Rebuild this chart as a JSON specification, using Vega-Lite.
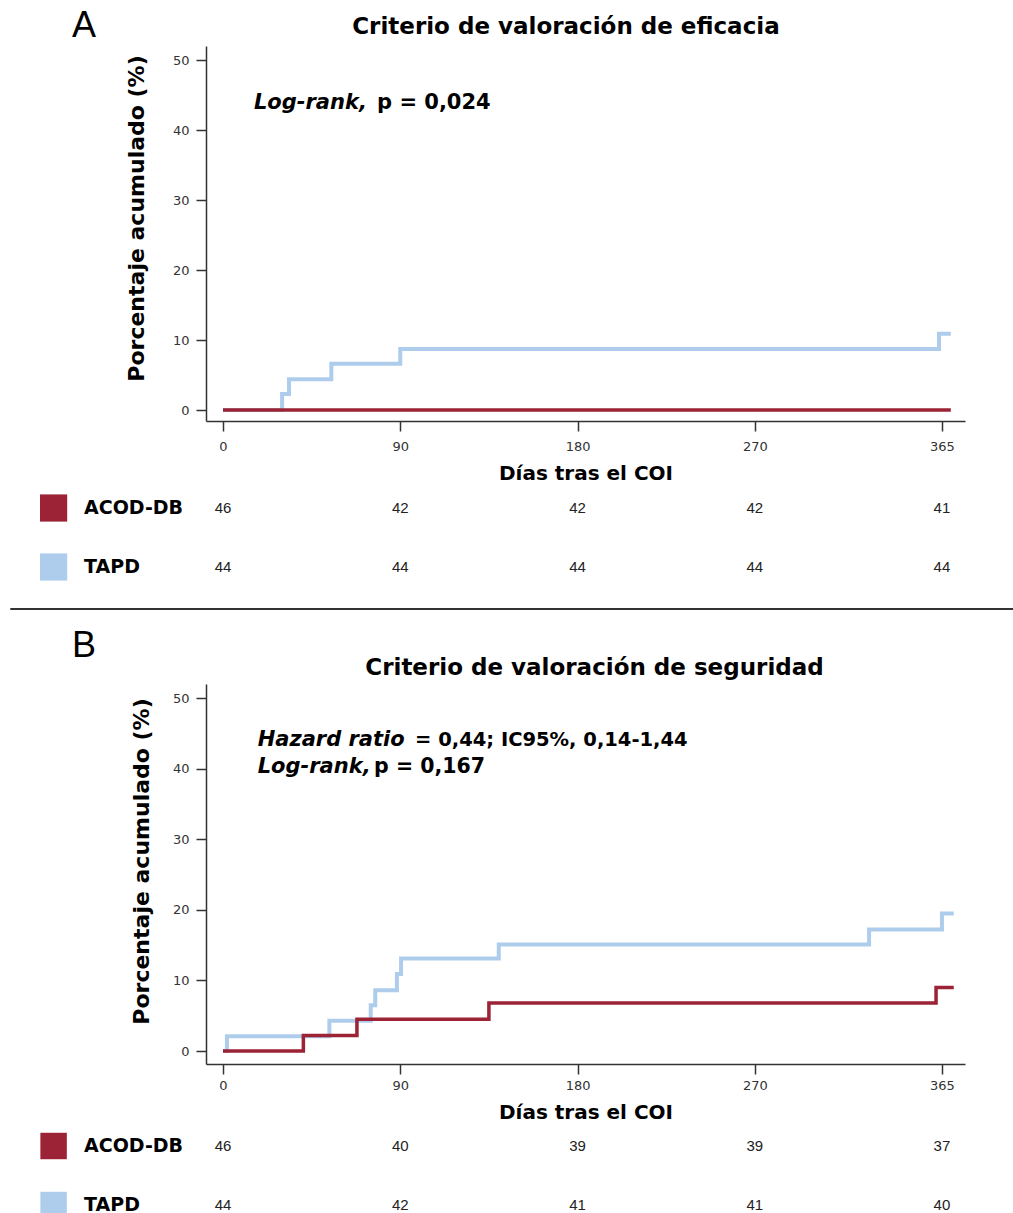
{
  "$schema": "https://vega.github.io/schema/vega-lite/v6.json",
  "autosize": {"type": "pad"},
  "padding": {"left": 9, "top": 7, "right": 0, "bottom": 0},
  "background": "white",
  "spacing": 72.5,
  "bounds": "flush",
  "resolve": {"scale": {"x": "independent", "y": "independent"}},
  "config": {
    "view": {"stroke": null},
    "font": "DejaVu Sans",
    "axis": {
      "domainColor": "#333333", "tickColor": "#333333", "labelColor": "#333333",
      "labelFont": "DejaVu Sans", "labelFontSize": 13,
      "titleFont": "DejaVu Sans", "titleFontWeight": "bold", "titleFontSize": 22, "titleColor": "#000000",
      "grid": false, "domainWidth": 1.5, "tickWidth": 1.5, "tickSize": 10
    }
  },
  "datasets": {
    "kmA": [
      {"grupo": "TAPD", "dias": 0, "pct": 0},
      {"grupo": "TAPD", "dias": 30, "pct": 2.3},
      {"grupo": "TAPD", "dias": 33.5, "pct": 4.4},
      {"grupo": "TAPD", "dias": 55, "pct": 6.6},
      {"grupo": "TAPD", "dias": 90, "pct": 8.7},
      {"grupo": "TAPD", "dias": 363.5, "pct": 10.9},
      {"grupo": "TAPD", "dias": 369.5, "pct": 10.9},
      {"grupo": "ACOD-DB", "dias": 0, "pct": 0},
      {"grupo": "ACOD-DB", "dias": 369.5, "pct": 0}
    ],
    "kmB": [
      {"grupo": "TAPD", "dias": 0, "pct": 0},
      {"grupo": "TAPD", "dias": 2, "pct": 2.1},
      {"grupo": "TAPD", "dias": 54, "pct": 4.3},
      {"grupo": "TAPD", "dias": 75, "pct": 6.5},
      {"grupo": "TAPD", "dias": 77.3, "pct": 8.6},
      {"grupo": "TAPD", "dias": 88.3, "pct": 10.9},
      {"grupo": "TAPD", "dias": 90.4, "pct": 13.1},
      {"grupo": "TAPD", "dias": 140, "pct": 15.1},
      {"grupo": "TAPD", "dias": 328, "pct": 17.2},
      {"grupo": "TAPD", "dias": 365, "pct": 19.5},
      {"grupo": "TAPD", "dias": 371, "pct": 19.5},
      {"grupo": "ACOD-DB", "dias": 0, "pct": 0},
      {"grupo": "ACOD-DB", "dias": 40.8, "pct": 2.2},
      {"grupo": "ACOD-DB", "dias": 68, "pct": 4.5},
      {"grupo": "ACOD-DB", "dias": 135, "pct": 6.8},
      {"grupo": "ACOD-DB", "dias": 362, "pct": 9.0},
      {"grupo": "ACOD-DB", "dias": 371, "pct": 9.0}
    ],
    "riskA": [
      {"grupo": "ACOD-DB", "dias": 0, "n": 46},
      {"grupo": "ACOD-DB", "dias": 90, "n": 42},
      {"grupo": "ACOD-DB", "dias": 180, "n": 42},
      {"grupo": "ACOD-DB", "dias": 270, "n": 42},
      {"grupo": "ACOD-DB", "dias": 365, "n": 41},
      {"grupo": "TAPD", "dias": 0, "n": 44},
      {"grupo": "TAPD", "dias": 90, "n": 44},
      {"grupo": "TAPD", "dias": 180, "n": 44},
      {"grupo": "TAPD", "dias": 270, "n": 44},
      {"grupo": "TAPD", "dias": 365, "n": 44}
    ],
    "riskB": [
      {"grupo": "ACOD-DB", "dias": 0, "n": 46},
      {"grupo": "ACOD-DB", "dias": 90, "n": 40},
      {"grupo": "ACOD-DB", "dias": 180, "n": 39},
      {"grupo": "ACOD-DB", "dias": 270, "n": 39},
      {"grupo": "ACOD-DB", "dias": 365, "n": 37},
      {"grupo": "TAPD", "dias": 0, "n": 44},
      {"grupo": "TAPD", "dias": 90, "n": 42},
      {"grupo": "TAPD", "dias": 180, "n": 41},
      {"grupo": "TAPD", "dias": 270, "n": 41},
      {"grupo": "TAPD", "dias": 365, "n": 40}
    ],
    "grupos": [{"grupo": "ACOD-DB"}, {"grupo": "TAPD"}]
  },
  "vconcat": [
    {
      "width": 759, "height": 375,
      "layer": [
        {
          "data": {"name": "kmA"},
          "mark": {"type": "line", "interpolate": "step-after", "strokeCap": "butt"},
          "encoding": {
            "x": {"field": "dias", "type": "quantitative", "scale": {"domain": [-8.63, 376.7], "nice": false, "zero": false},
                  "axis": {"values": [0, 90, 180, 270, 365], "title": "Días tras el COI", "titleFontSize": 20, "labelPadding": 9, "titlePadding": 10}},
            "y": {"field": "pct", "type": "quantitative", "scale": {"domain": [-1.57, 52], "nice": false, "zero": false},
                  "axis": {"values": [0, 10, 20, 30, 40, 50], "title": "Porcentaje acumulado (%)", "labelPadding": 7, "titlePadding": 24, "titleY": 172}},
            "color": {"field": "grupo", "type": "nominal", "scale": {"domain": ["ACOD-DB", "TAPD"], "range": ["#9b2335", "#aecdec"]}, "legend": null},
            "strokeWidth": {"field": "grupo", "type": "nominal", "scale": {"domain": ["ACOD-DB", "TAPD"], "range": [3.5, 4]}, "legend": null}
          }
        },
        {
          "data": {"values": [{"t": "A"}]},
          "mark": {"type": "text", "font": "Liberation Sans", "fontSize": 36, "align": "center", "baseline": "middle", "color": "#000000"},
          "encoding": {"x": {"datum": -70.56}, "y": {"datum": 54.86}, "text": {"field": "t"}}
        },
        {
          "data": {"values": [{"t": "Criterio de valoración de eficacia"}]},
          "mark": {"type": "text", "fontSize": 23, "fontWeight": "bold", "align": "center", "baseline": "middle", "color": "#000000"},
          "encoding": {"x": {"datum": 174.1}, "y": {"datum": 54.71}, "text": {"field": "t"}}
        },
        {
          "data": {"values": [{"t": "Log-rank,"}]},
          "mark": {"type": "text", "fontSize": 21, "fontWeight": "bold", "fontStyle": "italic", "align": "left", "baseline": "middle", "color": "#000000"},
          "encoding": {"x": {"datum": 15.7}, "y": {"datum": 43.86}, "text": {"field": "t"}}
        },
        {
          "data": {"values": [{"t": "p = 0,024"}]},
          "mark": {"type": "text", "fontSize": 21, "fontWeight": "bold", "align": "left", "baseline": "middle", "color": "#000000"},
          "encoding": {"x": {"datum": 78.2}, "y": {"datum": 43.86}, "text": {"field": "t"}}
        }
      ]
    },
    {
      "width": 759, "height": 118,
      "layer": [
        {
          "data": {"name": "riskA"},
          "mark": {"type": "text", "font": "Liberation Sans Narrow, Liberation Sans", "fontSize": 15, "color": "#222222", "baseline": "middle"},
          "encoding": {
            "x": {"field": "dias", "type": "quantitative", "scale": {"domain": [-8.63, 376.7], "nice": false, "zero": false}, "axis": null},
            "y": {"field": "grupo", "type": "nominal", "scale": {"type": "point", "domain": ["ACOD-DB", "TAPD"], "padding": 0.5, "align": 0.2458}, "axis": null},
            "text": {"field": "n"}
          }
        },
        {
          "data": {"name": "grupos"},
          "mark": {"type": "square", "size": 740, "filled": true, "opacity": 1},
          "encoding": {
            "x": {"datum": -86},
            "y": {"field": "grupo", "type": "nominal"},
            "color": {"field": "grupo", "type": "nominal", "scale": {"domain": ["ACOD-DB", "TAPD"], "range": ["#9b2335", "#aecdec"]}, "legend": null}
          }
        },
        {
          "data": {"name": "grupos"},
          "mark": {"type": "text", "fontSize": 19, "fontWeight": "bold", "align": "left", "baseline": "middle", "color": "#000000"},
          "encoding": {
            "x": {"datum": -70.56},
            "y": {"field": "grupo", "type": "nominal"},
            "text": {"field": "grupo"}
          }
        }
      ]
    },
    {
      "width": 759, "height": 380,
      "layer": [
        {
          "data": {"name": "kmB"},
          "mark": {"type": "line", "interpolate": "step-after", "strokeCap": "butt"},
          "encoding": {
            "x": {"field": "dias", "type": "quantitative", "scale": {"domain": [-8.63, 376.7], "nice": false, "zero": false},
                  "axis": {"values": [0, 90, 180, 270, 365], "title": "Días tras el COI", "titleFontSize": 20, "labelPadding": 5, "titlePadding": 10}},
            "y": {"field": "pct", "type": "quantitative", "scale": {"domain": [-1.84, 52], "nice": false, "zero": false},
                  "axis": {"values": [0, 10, 20, 30, 40, 50], "title": "Porcentaje acumulado (%)", "labelPadding": 7, "titlePadding": 19, "titleY": 177}},
            "color": {"field": "grupo", "type": "nominal", "scale": {"domain": ["ACOD-DB", "TAPD"], "range": ["#9b2335", "#aecdec"]}, "legend": null},
            "strokeWidth": {"field": "grupo", "type": "nominal", "scale": {"domain": ["ACOD-DB", "TAPD"], "range": [3.5, 4]}, "legend": null}
          }
        },
        {
          "data": {"values": [{"t": "sep"}]},
          "mark": {"type": "rule", "color": "#333333", "strokeWidth": 2},
          "encoding": {"x": {"datum": -108}, "x2": {"datum": 402}, "y": {"datum": 62.62}}
        },
        {
          "data": {"values": [{"t": "B"}]},
          "mark": {"type": "text", "font": "Liberation Sans", "fontSize": 36, "align": "center", "baseline": "middle", "color": "#000000"},
          "encoding": {"x": {"datum": -70.56}, "y": {"datum": 57.38}, "text": {"field": "t"}}
        },
        {
          "data": {"values": [{"t": "Criterio de valoración de seguridad"}]},
          "mark": {"type": "text", "fontSize": 23, "fontWeight": "bold", "align": "center", "baseline": "middle", "color": "#000000"},
          "encoding": {"x": {"datum": 188.6}, "y": {"datum": 54.27}, "text": {"field": "t"}}
        },
        {
          "data": {"values": [{"t": "Hazard ratio", "y": 44.07, "x": 17.6}, {"t": "Log-rank,", "y": 40.24, "x": 17.6}]},
          "mark": {"type": "text", "fontSize": 21, "fontWeight": "bold", "fontStyle": "italic", "align": "left", "baseline": "middle", "color": "#000000"},
          "encoding": {"x": {"field": "x", "type": "quantitative"}, "y": {"field": "y", "type": "quantitative"}, "text": {"field": "t"}}
        },
        {
          "data": {"values": [{"t": "= 0,44; IC95%, 0,14-1,44", "y": 44.07, "x": 97.5}]},
          "mark": {"type": "text", "fontSize": 19.5, "fontWeight": "bold", "align": "left", "baseline": "middle", "color": "#000000"},
          "encoding": {"x": {"field": "x", "type": "quantitative"}, "y": {"field": "y", "type": "quantitative"}, "text": {"field": "t"}}
        },
        {
          "data": {"values": [{"t": "p = 0,167", "y": 40.24, "x": 76.7}]},
          "mark": {"type": "text", "fontSize": 20.5, "fontWeight": "bold", "align": "left", "baseline": "middle", "color": "#000000"},
          "encoding": {"x": {"field": "x", "type": "quantitative"}, "y": {"field": "y", "type": "quantitative"}, "text": {"field": "t"}}
        }
      ]
    },
    {
      "width": 759, "height": 70.8,
      "layer": [
        {
          "data": {"name": "riskB"},
          "mark": {"type": "text", "font": "Liberation Sans Narrow, Liberation Sans", "fontSize": 15, "color": "#222222", "baseline": "middle"},
          "encoding": {
            "x": {"field": "dias", "type": "quantitative", "scale": {"domain": [-8.63, 376.7], "nice": false, "zero": false}, "axis": null},
            "y": {"field": "grupo", "type": "nominal", "scale": {"type": "point", "domain": ["ACOD-DB", "TAPD"], "padding": 0.1, "align": 0.805}, "axis": null},
            "text": {"field": "n"}
          }
        },
        {
          "data": {"name": "grupos"},
          "mark": {"type": "square", "size": 700, "filled": true, "opacity": 1},
          "encoding": {
            "x": {"datum": -86},
            "y": {"field": "grupo", "type": "nominal"},
            "color": {"field": "grupo", "type": "nominal", "scale": {"domain": ["ACOD-DB", "TAPD"], "range": ["#9b2335", "#aecdec"]}, "legend": null}
          }
        },
        {
          "data": {"name": "grupos"},
          "mark": {"type": "text", "fontSize": 19, "fontWeight": "bold", "align": "left", "baseline": "middle", "color": "#000000"},
          "encoding": {
            "x": {"datum": -70.56},
            "y": {"field": "grupo", "type": "nominal"},
            "text": {"field": "grupo"}
          }
        }
      ]
    }
  ]
}
